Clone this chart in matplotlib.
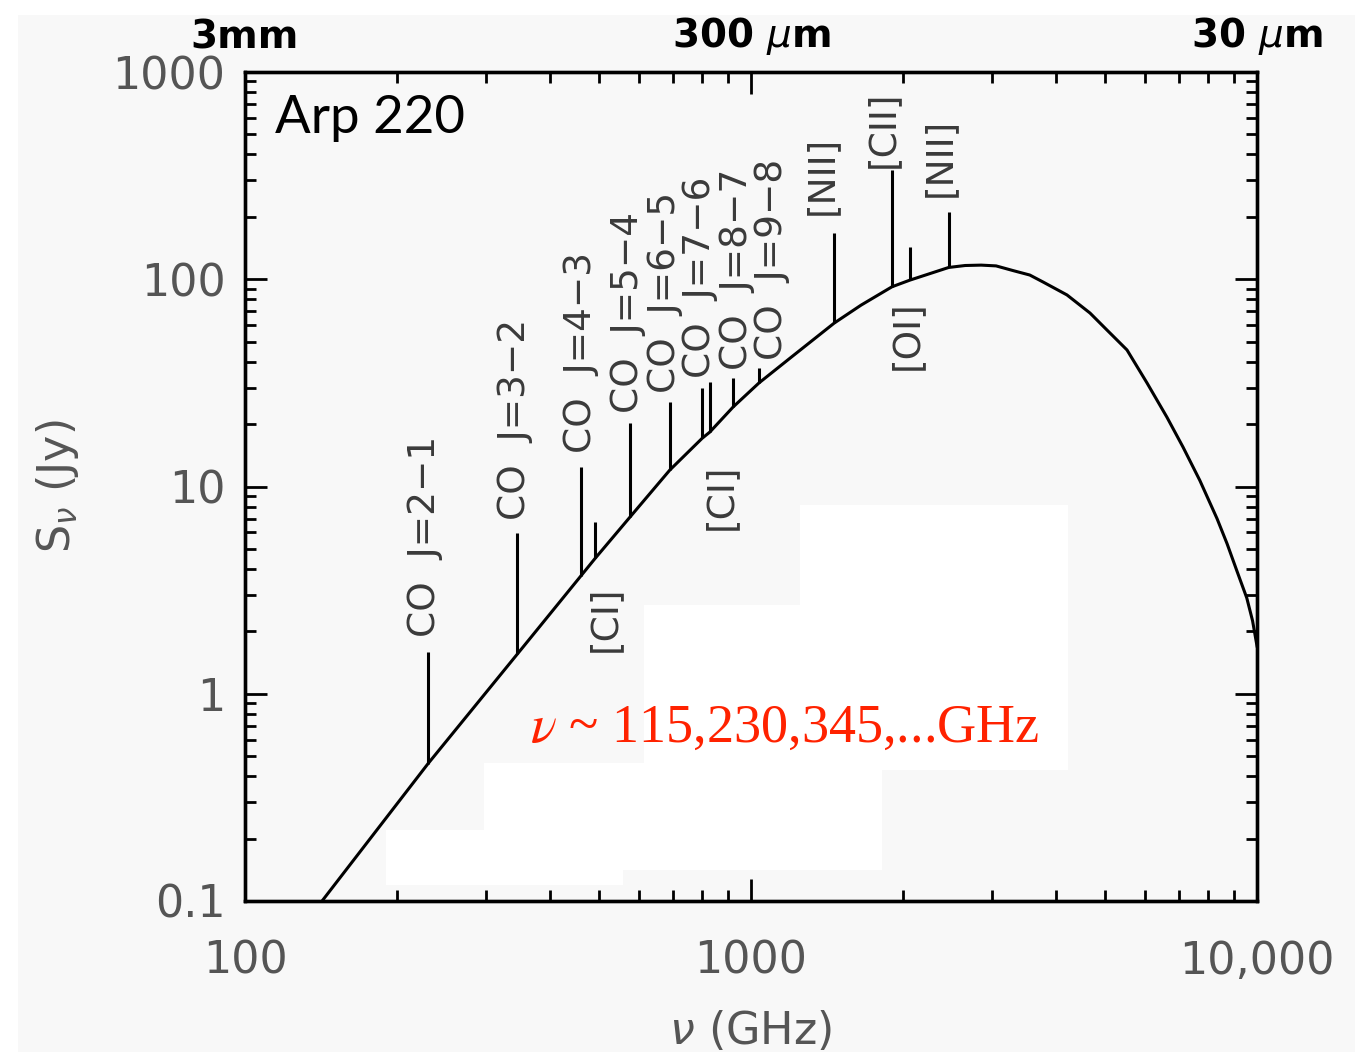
import matplotlib.pyplot as plt
import matplotlib.ticker as mticker
from matplotlib.patches import Rectangle
import numpy as np

plt.rcParams['mathtext.fontset'] = 'dejavusans'

# SED of Arp 220
curve_nu = [142, 230, 345, 461, 492, 576, 691, 801, 829, 922, 1037, 1200, 1461,
            1650, 1900, 2060, 2459, 2650, 2850, 3050, 3300, 3556, 3777, 4212,
            4677, 5052, 5534, 6062, 6637, 7141, 7709, 8337, 8726, 9131, 9545,
            9800, 10000]
curve_s = [0.1, 0.46, 1.55, 3.7, 4.5, 7.1, 12.0, 17.1, 18.3, 24.2, 31.6, 42, 61.5,
           75, 92, 99, 114, 116.5, 117, 116, 110, 104.8, 97, 84,
           68.7, 56.9, 45.6, 31.6, 21.6, 15.5, 10.7, 7.0, 5.3, 3.9, 2.9,
           2.25, 1.7]

# emission lines
line_nu = [230, 345, 461, 492, 576, 691, 801, 829, 922, 1037, 1461, 1900, 2060, 2459]
line_base = [0.46, 1.55, 3.7, 4.5, 7.1, 12.0, 17.1, 18.3, 24.2, 31.6, 61.5, 92, 99, 114]
line_top = [1.59, 5.97, 12.4, 6.74, 20.2, 25.6, 29.9, 31.9, 33.4, 37.3, 167, 336, 143, 211]
line_labels = ["CO  J=2\u22121", "CO  J=3\u22122", "CO  J=4\u22123", "[CI]",
               "CO  J=5\u22124", "CO  J=6\u22125", "CO  J=7\u22126", "[CI]",
               "CO  J=8\u22127", "CO  J=9\u22128", "[NII]", "[CII]", "[OI]", "[NII]"]
# label placement: (dx px, dy px, above?)
label_pos = [(-3, 15, True), (-2, 13, True), (0, 14, True), (10, -27, False),
             (-2, 10, True), (-5, 9, True), (-2, 10, True), (11, -31, False),
             (4, 8, True), (13, 8, True), (-12, 18, True), (-9, 2, True),
             (-3, -20, False), (-9, 15, True)]

xtick_vals = [100, 1000, 10000]
xtick_labels = ["100", "1000", "10,000"]
ytick_vals = [0.1, 1, 10, 100, 1000]
ytick_labels = ["0.1", "1", "10", "100", "1000"]
wave_labels = ["3mm", "300 $\\mu$m", "30 $\\mu$m"]

W, H = 1359, 1052
BG = '#f8f8f8'
GRAY = '#555555'

fig = plt.figure(figsize=(W / 100, H / 100), dpi=100, facecolor='white')
fig.patches.append(Rectangle((18 / W, 0), 1 - 22 / W, 1 - 15 / H,
                             transform=fig.transFigure, facecolor=BG,
                             edgecolor='none', zorder=-10))

ax = fig.add_axes([245 / W, 1 - 901 / H, (1257 - 245) / W, (901 - 72) / H])
ax.set_facecolor(BG)


def px_rect(x0, y0, x1, y1):
    return Rectangle((x0 / W, 1 - y1 / H), (x1 - x0) / W, (y1 - y0) / H,
                     transform=fig.transFigure, facecolor='white',
                     edgecolor='none', zorder=0.5)


for r in [(800, 505, 1068, 605), (644, 605, 1068, 770),
          (484, 763, 882, 870), (386, 830, 623, 885)]:
    ax.add_patch(px_rect(*r))

ax.plot(curve_nu, curve_s, color='black', lw=2.2, zorder=3, clip_on=True)
ax.vlines(line_nu, line_base, line_top, color='black', lw=2.2, zorder=3)

for nu, top, base, lab, (dx, dy, above) in zip(line_nu, line_top, line_base,
                                               line_labels, label_pos):
    y = top if above else base
    ax.annotate(lab, xy=(nu, y), xytext=(dx * 0.72, dy * 0.72),
                textcoords='offset points', rotation=90, ha='center',
                va='bottom' if above else 'top', fontsize=27, color='#3a3a3a',
                zorder=4)

ax.set_xscale('log')
ax.set_yscale('log')
ax.set_xlim(100, 10000)
ax.set_ylim(0.1, 1000)

ax.xaxis.set_major_locator(mticker.FixedLocator(xtick_vals))
ax.xaxis.set_major_formatter(mticker.FixedFormatter(xtick_labels))
ax.yaxis.set_major_locator(mticker.FixedLocator(ytick_vals))
ax.yaxis.set_major_formatter(mticker.FixedFormatter(ytick_labels))
for a in (ax.xaxis, ax.yaxis):
    a.set_minor_locator(mticker.LogLocator(base=10, subs=np.arange(2, 10), numticks=20))
    a.set_minor_formatter(mticker.NullFormatter())

ax.tick_params(which='both', direction='in', width=2, color='black',
               top=False, right=True)
ax.tick_params(which='major', length=16)
ax.tick_params(which='minor', length=8)
ax.tick_params(axis='x', which='major', pad=28, labelsize=32, labelcolor=GRAY)
ax.tick_params(axis='y', which='major', pad=14, labelsize=32, labelcolor=GRAY)
for s in ax.spines.values():
    s.set_linewidth(2.4)

top = ax.twiny()
top.set_xscale('log')
top.set_xlim(100, 10000)
top.xaxis.set_major_locator(mticker.FixedLocator(xtick_vals))
top.xaxis.set_major_formatter(mticker.FixedFormatter(wave_labels))
top.xaxis.set_minor_locator(mticker.LogLocator(base=10, subs=np.arange(2, 10), numticks=20))
top.xaxis.set_minor_formatter(mticker.NullFormatter())
top.tick_params(which='both', direction='in', width=2, color='black')
top.tick_params(which='major', length=16, pad=11, labelsize=28)
top.tick_params(which='minor', length=8)
for lab in top.get_xticklabels():
    lab.set_fontweight('bold')
for s in top.spines.values():
    s.set_linewidth(2.4)

ax.set_xlabel("$\\nu$ (GHz)", fontsize=32, color=GRAY)
ax.xaxis.set_label_coords(0.5, -0.13)
ax.set_ylabel("S$_\\nu$ (Jy)", fontsize=32, color=GRAY)
ax.yaxis.set_label_coords(-0.162, 0.5)

fig.text(275 / W, 1 - 133 / H, "Arp 220", fontsize=38, family='Lato',
         color='black', va='baseline')
fig.text(530 / W, 1 - 742 / H, "$\\nu$ ~ 115,230,345,...GHz", fontsize=39,
         family='Liberation Serif', color='#ff2200', va='baseline',
         math_fontfamily='stix', zorder=10)

fig.savefig('out.png', dpi=100, facecolor=fig.get_facecolor())
